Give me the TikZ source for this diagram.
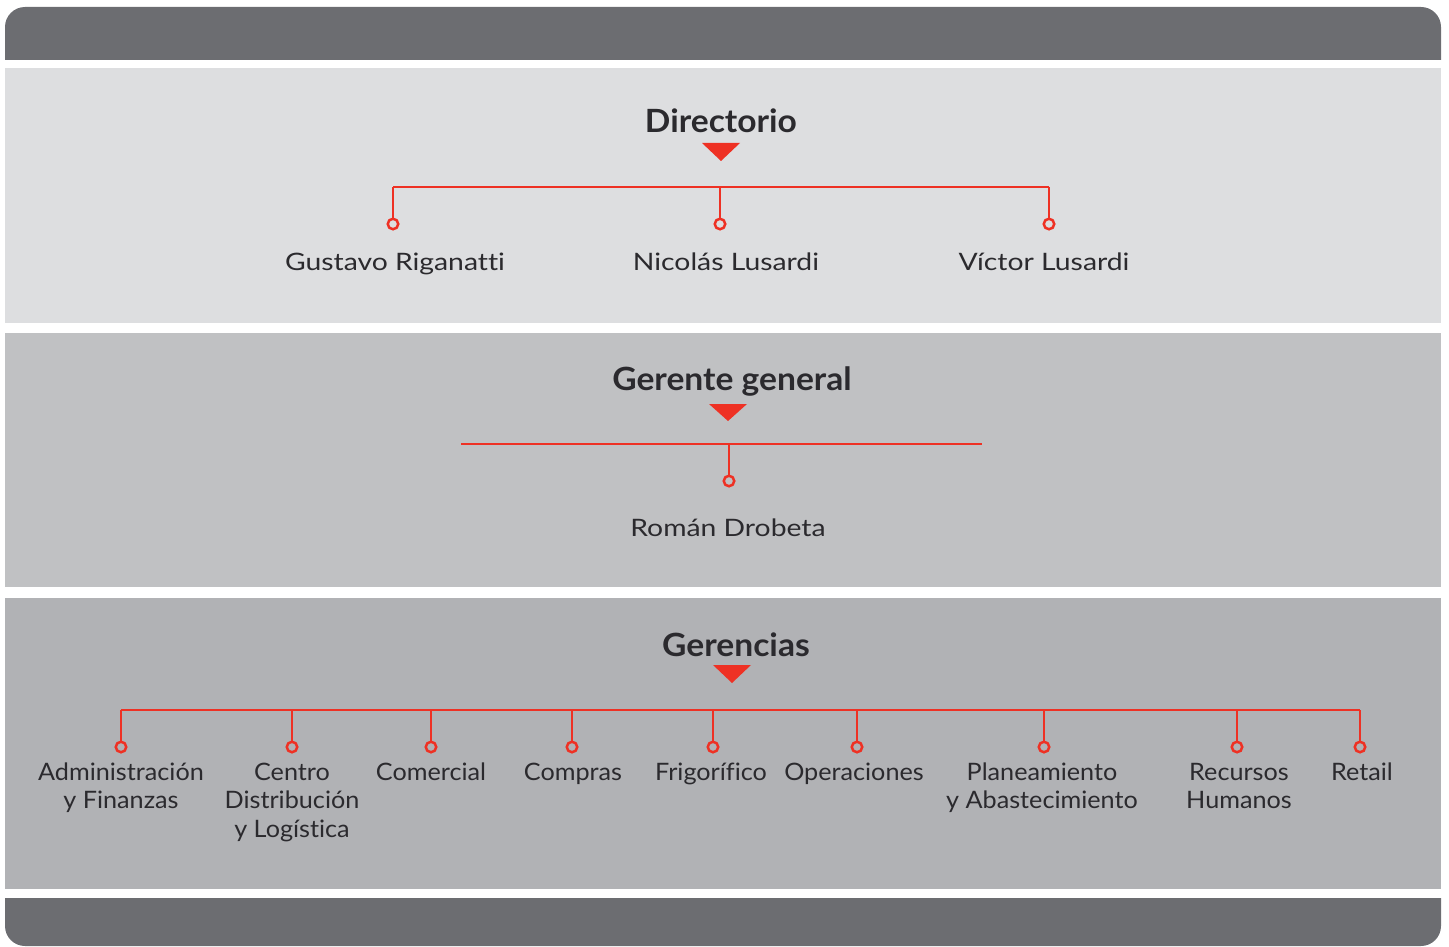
\documentclass[tikz,border=0pt]{standalone}
\usepackage{fontspec}
\setmainfont{Lato}[FakeStretch=1.18, Ligatures=NoCommon]
\newfontfamily\titlefont{Lato}[FakeStretch=1.05]
\newfontfamily\deptfont{Lato}[FakeStretch=1.05, Ligatures=NoCommon]
\definecolor{bar}{HTML}{6C6D71}
\definecolor{bandA}{HTML}{DDDEE0}
\definecolor{bandB}{HTML}{C0C1C3}
\definecolor{bandC}{HTML}{B1B2B5}
\definecolor{rojo}{HTML}{EE3124}
\definecolor{txt}{HTML}{2B2A2E}
\begin{document}
\begin{tikzpicture}[x=1pt,y=-1pt,
  titletext/.style={font=\titlefont\fontsize{32}{38}\selectfont\bfseries, text=txt, anchor=base, inner sep=0},
  persontext/.style={font=\fontsize{24}{29}\selectfont, text=txt, anchor=base, inner sep=0},
  depttext/.style={font=\deptfont\fontsize{24}{28.5}\selectfont, text=txt, anchor=north, inner sep=0, align=center},
  enddot/.style={circle, draw=rojo, line width=2.5pt, inner sep=0, minimum size=10.5pt},
  link/.style={draw=rojo, line width=2.8pt},
  tri/.style={fill=rojo}]
\useasboundingbox (0,0) rectangle (1449,947);
% bars and bands
\begin{scope}
  \clip (0,0) rectangle (1449,60);
  \fill[bar, rounded corners=20pt] (5,7) rectangle (1441,120);
\end{scope}
\begin{scope}
  \clip (0,898) rectangle (1449,947);
  \fill[bar, rounded corners=20pt] (5,840) rectangle (1441,946);
\end{scope}
\fill[bandA] (5,68) rectangle (1441,323);
\fill[bandB] (5,333) rectangle (1441,587);
\fill[bandC] (5,598) rectangle (1441,889);

% Directorio
\node[titletext] (dir) at (721,133) {Directorio};
\fill[tri] (702,143) -- (740,143) -- (721,161) -- cycle;
\coordinate (dL) at (393,187);
\coordinate (dM) at (720,187);
\coordinate (dR) at (1049,187);
\draw[link] (dL) -- (dR);
\node[enddot] (d1) at (393,224) {};
\node[enddot] (d2) at (720,224) {};
\node[enddot] (d3) at (1049,224) {};
\draw[link] (dL) -- (d1.north);
\draw[link] (dM) -- (d2.north);
\draw[link] (dR) -- (d3.north);
\node[persontext] (n1) at (395,270) {Gustavo Riganatti};
\node[persontext] (n2) at (726,270) {Nicolás Lusardi};
\node[persontext] (n3) at (1044,270) {Víctor Lusardi};

% Gerente general
\node[titletext] (gg) at (732,390) {Gerente general};
\fill[tri] (709,404) -- (747,404) -- (728,421) -- cycle;
\coordinate (gL) at (461,444);
\coordinate (gR) at (982,444);
\coordinate (gM) at (729,444);
\draw[link] (gL) -- (gR);
\node[enddot] (g1) at (729,481) {};
\draw[link] (gM) -- (g1.north);
\node[persontext] (rd) at (728,536) {Román Drobeta};

% Gerencias
\node[titletext] (ger) at (736,656) {Gerencias};
\fill[tri] (713,665) -- (751,665) -- (732,683) -- cycle;
\coordinate (hL) at (121,710);
\coordinate (hR) at (1360,710);
\draw[link] (hL) -- (hR);
\foreach \i/\x in {1/121,2/292,3/431,4/572,5/713,6/857,7/1044,8/1237,9/1360}{
  \coordinate (h\i) at (\x,710);
  \node[enddot] (c\i) at (\x,747) {};
  \draw[link] (h\i) -- (c\i.north);
}
\node[depttext] (t1) at (121,760) {\strut Administración\\y Finanzas};
\node[depttext] (t2) at (292,760) {\strut Centro\\Distribución\\y Logística};
\node[depttext] (t3) at (431,760) {\strut Comercial};
\node[depttext] (t4) at (573,760) {\strut Compras};
\node[depttext] (t5) at (711,760) {\strut Frigorífico};
\node[depttext] (t6) at (854,760) {\strut Operaciones};
\node[depttext] (t7) at (1042,760) {\strut Planeamiento\\y Abastecimiento};
\node[depttext] (t8) at (1239,760) {\strut Recursos\\Humanos};
\node[depttext] (t9) at (1362,760) {\strut Retail};
\end{tikzpicture}
\end{document}
